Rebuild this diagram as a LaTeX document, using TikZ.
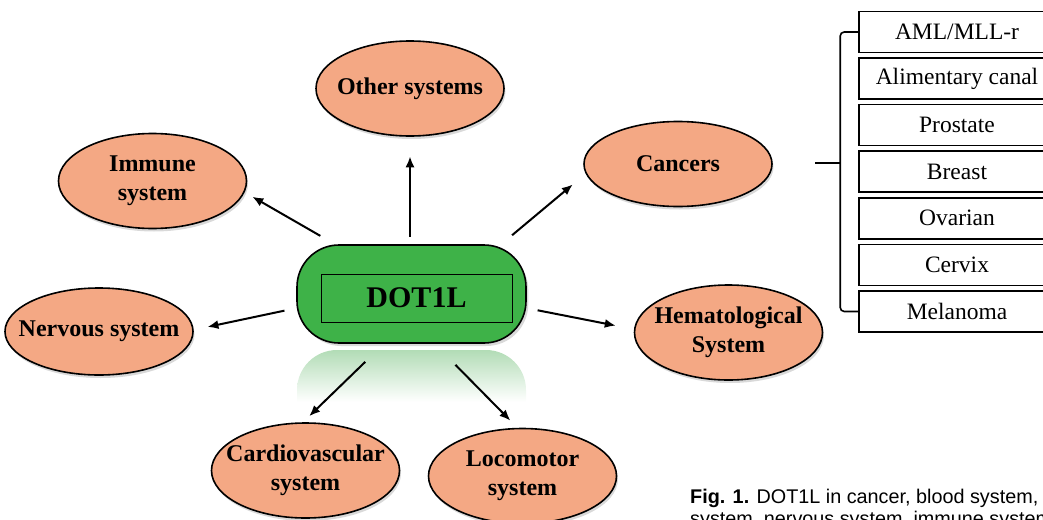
\documentclass[tikz,border=0pt]{standalone}
\usepackage{fontspec}
\setmainfont{Liberation Serif}
\newfontfamily\capfont{Liberation Sans}
\usetikzlibrary{arrows.meta,shapes.geometric,shadows}

\definecolor{salmonfill}{RGB}{244,168,132}
\definecolor{dotgreen}{RGB}{62,178,72}
\definecolor{reflgreen}{RGB}{178,220,182}

\tikzset{
  sysnode/.style={ellipse, draw=black, line width=1.6pt, fill=salmonfill,
    minimum width=188pt, minimum height=95pt, inner xsep=-40pt, inner ysep=-8pt,
    align=center, font=\fontsize{24}{29}\selectfont\bfseries,
    drop shadow={opacity=0.3, shadow xshift=1.5pt, shadow yshift=-3pt}},
  arr/.style={line width=2pt, -{Latex[length=11pt,width=9pt]}},
  cancerbox/.style={draw=black, line width=1.6pt, fill=white, minimum width=196pt,
    minimum height=41pt, inner sep=0pt, font=\fontsize{23.5}{27}\selectfont}
}

\begin{document}
\begin{tikzpicture}[x=1pt, y=-1pt]
    \useasboundingbox (0,0) rectangle (1043,519);
    \clip (0,0) rectangle (1043,519);

    % Reflection under the centre node
    \shade[top color=reflgreen, bottom color=white]
      (297,402) [rounded corners=40pt] -- (297,350) -- (526,350) [sharp corners] -- (526,402) -- cycle;

    % Centre node
    \node[draw=black, line width=1.6pt, fill=dotgreen, rounded corners=42pt,
      minimum width=229pt, minimum height=98pt, drop shadow={opacity=0.3, shadow yshift=-3pt}] (dotl) at (411.5,294) {};
    \node[draw=black, line width=1pt, minimum width=191pt, minimum height=48pt,
      font=\fontsize{30}{36}\selectfont\bfseries] (dotlbox) at (416.5,298) {DOT1L};

    % Systems
    \node[sysnode] (other) at (410,88.5) {Other systems};
    \node[sysnode] (immune) at (152.5,181) {Immune\\system};
    \node[sysnode, minimum height=85pt] (cancers) at (678,164) {Cancers};
    \node[sysnode, minimum height=87pt] (nervous) at (99,331.5) {Nervous system};
    \node[sysnode] (hemato) at (728.5,332.5) {Hematological\\System};
    \node[sysnode] (cardio) at (305.5,470.5) {Cardiovascular\\system};
    \node[sysnode] (locomo) at (522.5,476) {Locomotor\\system};

    % Draw arrows
    \draw[arr, shorten <=7.5pt, shorten >=19.5pt] (other.south |- dotl.north) -- (other.south);
    \draw[arr, shorten <=16.7pt, shorten >=8.8pt] (dotl.147) -- (immune.-7);
    \draw[arr, shorten <=14pt, shorten >=16.7pt] (dotl.29) -- (cancers.186);
    \draw[arr, shorten <=12pt, shorten >=14pt] (dotl.187) -- (nervous.1);
    \draw[arr, shorten <=11pt, shorten >=18.5pt] (dotl.-7) -- (hemato.178);
    \draw[arr, shorten <=26pt, shorten >=8.6pt] (dotl.241) -- (cardio.93);
    \draw[arr, shorten <=29.5pt, shorten >=10pt] (dotl.-65) -- (locomo.96);

    % Cancer list
    \foreach \txt [count=\i] in {AML/MLL-r, Alimentary canal, Prostate, Breast, Ovarian, Cervix, Melanoma} {
      \node[cancerbox] (b\i) at (957,{32+46.58*(\i-1)}) {\txt};
    }

    % Bracket
    \coordinate (brk) at (815,163);
    \coordinate (spine) at (841,163);
    \draw[line width=1.6pt] (brk) -- (spine);
    \draw[line width=1.6pt, rounded corners=4pt] (b1.west) -- ++(-18,0) |- (b7.west);

    % Caption
    \node[anchor=base west, inner sep=0pt, font=\capfont\fontsize{19.8}{22}\selectfont] (cap1) at (690,503)
      {\textbf{Fig. 1.} DOT1L in cancer, blood system,};
    \node[anchor=base west, inner sep=0pt, font=\capfont\fontsize{19.8}{22}\selectfont] (cap2) at (690,525)
      {system, nervous system, immune system};

  \end{tikzpicture}
\end{document}
